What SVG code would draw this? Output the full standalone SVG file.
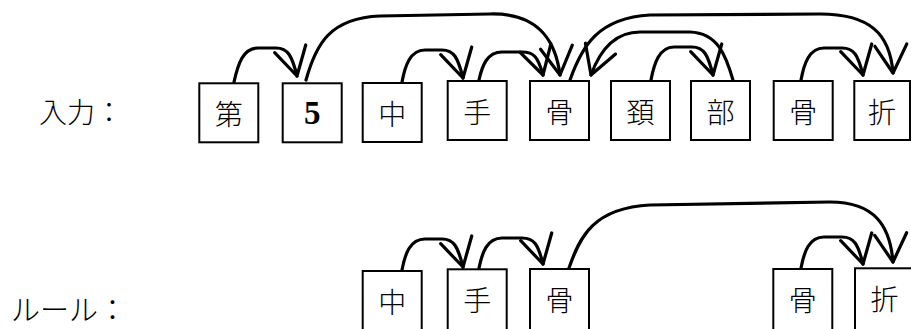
<svg xmlns="http://www.w3.org/2000/svg" width="911" height="329" viewBox="0 0 911 329">
  <style>
    .box { fill: #fff; stroke: #000; stroke-width: 2; }
    .ch { font-family: "Noto Sans CJK JP", "Noto Sans CJK SC", sans-serif; font-weight: 300; font-size: 28px; text-anchor: middle; dominant-baseline: central; fill: #000; }
    .num { font-family: "Liberation Serif", serif; font-weight: bold; font-size: 33px; text-anchor: middle; fill: #000; }
    .lbl { font-family: "Noto Sans CJK JP", "Noto Sans CJK SC", sans-serif; font-weight: 300; dominant-baseline: central; fill: #000; }
    .arc { fill: none; stroke: #000; stroke-width: 3.2; stroke-linecap: round; marker-end: url(#vhead); }
  </style>
  <defs>
    <marker id="vhead" markerUnits="userSpaceOnUse" viewBox="-34 -20 38 40" refX="0" refY="0" markerWidth="38" markerHeight="40" orient="auto" overflow="visible">
      <path d="M-28,-16 L0,0 L-28,16" fill="none" stroke="#000" stroke-width="3.2" stroke-linejoin="round" stroke-linecap="round"/>
    </marker>
  </defs>

  <rect width="911" height="329" fill="#fff"/>

  <!-- row labels -->
  <text id="label-input" class="lbl" x="39" y="111" font-size="28">入力：</text>
  <text id="label-rule" class="lbl" x="11" y="308" font-size="29">ルール：</text>

  <!-- input row -->
  <g id="in-1"><rect class="box" x="199.3" y="83.3" width="59" height="59"/><text class="ch" x="228.8" y="112.8">第</text></g>
  <g id="in-2"><rect class="box" x="282.7" y="83.3" width="59" height="59"/><text class="num" x="312.2" y="123.5">5</text></g>
  <g id="in-3"><rect class="box" x="362.7" y="83" width="59" height="59"/><text class="ch" x="392.2" y="112.5">中</text></g>
  <g id="in-4"><rect class="box" x="447.7" y="81" width="59" height="59"/><text class="ch" x="477.2" y="110.5">手</text></g>
  <g id="in-5"><rect class="box" x="530" y="81" width="59" height="59"/><text class="ch" x="559.5" y="110.5">骨</text></g>
  <g id="in-6"><rect class="box" x="611" y="81" width="59" height="59"/><text class="ch" x="640.5" y="110.5">頚</text></g>
  <g id="in-7"><rect class="box" x="691" y="81" width="59" height="59"/><text class="ch" x="720.5" y="110.5">部</text></g>
  <g id="in-8"><rect class="box" x="773.7" y="81" width="59" height="59"/><text class="ch" x="803.2" y="110.5">骨</text></g>
  <g id="in-9"><rect class="box" x="854.3" y="81" width="55.7" height="59"/><text class="ch" x="882" y="110.5">折</text></g>

  <!-- rule row (boxes run past the lower edge) -->
  <g id="rule-1"><rect class="box" x="362.7" y="271" width="59" height="80"/><text class="ch" x="392.2" y="300.5">中</text></g>
  <g id="rule-2"><rect class="box" x="447.7" y="269.3" width="59" height="80"/><text class="ch" x="477.2" y="298.8">手</text></g>
  <g id="rule-3"><rect class="box" x="530" y="269" width="59" height="80"/><text class="ch" x="559.5" y="298.5">骨</text></g>
  <g id="rule-4"><rect class="box" x="773.3" y="269" width="59" height="80"/><text class="ch" x="802.8" y="298.5">骨</text></g>
  <g id="rule-5"><rect class="box" x="855" y="268.3" width="59" height="80"/><text class="ch" x="884.5" y="297.8">折</text></g>

  <!-- dependency arcs -->
  <g id="connectors">
    <!-- input row -->
    <path class="arc" d="M234,82 C238,64 243,48 258,48 L276,48 C288,48 292,56 297,76"/>
    <path class="arc" d="M402,82 C405,66 410,50 425,50 L442,50 C454,50 458,58 463,78"/>
    <path class="arc" d="M479,80 C482,66 487,52 502,52 L522,52 C534,52 538,57 543,75"/>
    <path class="arc" d="M306,80 C316,44 330,18 380,16 L490,14 C535,13 555,36 560,75"/>
    <path class="arc" d="M570,80 C582,46 598,18 650,15 L820,14 C870,14 890,34 893,73"/>
    <path class="arc" d="M733,80 C726,56 718,33 690,32 L640,32 C615,32 600,50 591,75"/>
    <path class="arc" d="M651,80 C654,64 659,47 674,47 L692,47 C704,47 708,55 713,75"/>
    <path class="arc" d="M801,80 C804,64 809,48 824,48 L842,48 C854,48 858,55 863,75"/>
    <!-- rule row -->
    <path class="arc" d="M402,270 C405,254 410,239 425,239 L442,239 C454,239 458,247 463,267"/>
    <path class="arc" d="M479,268 C482,253 487,238 502,238 L522,238 C534,238 538,244 543,264"/>
    <path class="arc" d="M569,268 C580,236 594,208 650,205 L830,202 C875,202 890,226 893,262"/>
    <path class="arc" d="M801,268 C804,252 809,237 824,237 L842,237 C854,237 858,244 863,264"/>
  </g>
</svg>
